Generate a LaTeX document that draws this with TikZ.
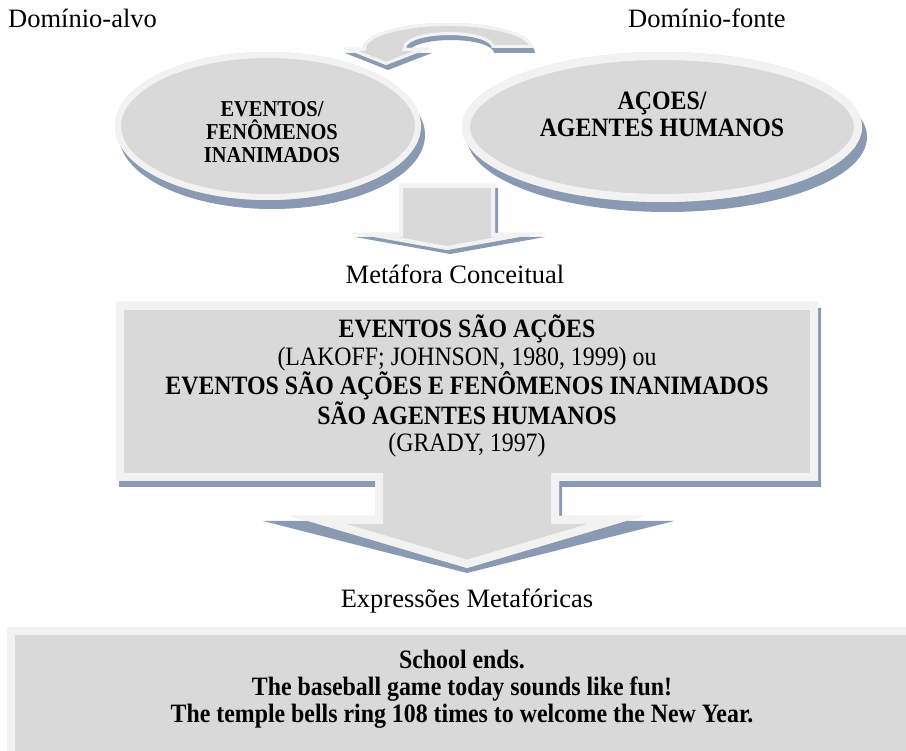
\documentclass[tikz,border=0pt]{standalone}
\usepackage{fontspec}
\setmainfont{Liberation Serif}
% slightly condensed serif for the boxed texts
\newfontfamily\narrowserif[FakeStretch=0.9]{Liberation Serif}
\definecolor{bodyc}{HTML}{D9D9D9}
\definecolor{rimc}{HTML}{F2F2F2}
\definecolor{shadowc}{HTML}{8A9AB3}
% gray body with a light inner rim: #1 rim width (doubled), #2 outline
\newcommand\beveledbody[2]{%
  \begin{scope}\clip #2;\fill[bodyc] #2;\draw[rimc,line width=#1] #2;\end{scope}}
% the same, with a drop shadow shifted by #1
\newcommand\raisedbody[3]{%
  \fill[shadowc,shift={#1}] #3;
  \beveledbody{#2}{#3}}
\tikzset{
  label/.style={font=\fontsize{26.5}{30}\selectfont, inner sep=0pt},
  boldtext/.style={font=\narrowserif\bfseries\fontsize{26.5}{27.5}\selectfont, align=center, inner sep=0pt},
}
\begin{document}
\begin{tikzpicture}[x=1pt,y=1pt]
\useasboundingbox (0,0) rectangle (906,-751);
\clip (0,0) rectangle (906,-751);
\fill[white] (0,0) rectangle (906,-751);

% domain labels
\node[label, anchor=base west] (alvo) at (8,-28) {Domínio-alvo};
\node[label, anchor=base west] (fonte) at (628,-28) {Domínio-fonte};

% curved mapping arrow from the source domain to the target domain
\raisedbody{(2,-5)}{6}{(533,-48) arc[start angle=0, end angle=180, x radius=85, y radius=25] -- (343,-48) -- (386,-65) -- (430,-48) -- (406,-48) arc[start angle=180, end angle=0, x radius=43, y radius=13] -- cycle}

% the two domains
\raisedbody{(4,-9)}{12}{(268,-126) ellipse[x radius=153, y radius=74]}
\raisedbody{(5,-10)}{16}{(662,-127) ellipse[x radius=200, y radius=75]}
\node[boldtext, font=\narrowserif\bfseries\fontsize{22.7}{23}\selectfont] (target) at (272,-132.2) {EVENTOS/\\FENÔMENOS\\INANIMADOS};
\node[boldtext, font=\narrowserif\bfseries\fontsize{26.5}{27}\selectfont] (source) at (662,-114.5) {AÇOES/\\AGENTES HUMANOS};

% small down arrow
\raisedbody{(3,-4)}{8}{(399,-184) -- (495,-184) -- (495,-233) -- (542,-233) -- (447,-250) -- (352,-233) -- (399,-233) -- cycle}
\node[label, anchor=base] (metaf) at (455,-284) {Metáfora Conceitual};

% down-arrow callout with the conceptual metaphor
\fill[shadowc] (119,-308) -- (821,-308) -- (821,-487) -- (562,-487) -- (562,-521) -- (674,-521) -- (467,-573) -- (263,-521) -- (378,-521) -- (378,-487) -- (119,-487) -- cycle;
\beveledbody{16}{(116,-302) -- (818,-302) -- (818,-481) -- (559,-481) -- (559,-516) -- (643,-516) -- (467,-568) -- (291,-516) -- (375,-516) -- (375,-481) -- (116,-481) -- cycle}
\node[boldtext] (metaphor) at (467,-386.2) {EVENTOS SÃO AÇÕES\\{\mdseries (LAKOFF; JOHNSON, 1980, 1999) ou}\\EVENTOS SÃO AÇÕES E FENÔMENOS INANIMADOS\\SÃO AGENTES HUMANOS\\{\mdseries (GRADY, 1997)}};

\node[label, anchor=base] (expr) at (467,-607) {Expressões Metafóricas};

% examples box
\beveledbody{16}{(7,-627) rectangle (920,-760)}
\node[boldtext, font=\narrowserif\bfseries\fontsize{26.5}{27}\selectfont] (examples) at (462,-688.8) {School ends.\\The baseball game today sounds like fun!\\The temple bells ring 108 times to welcome the New Year.};
\end{tikzpicture}
\end{document}
